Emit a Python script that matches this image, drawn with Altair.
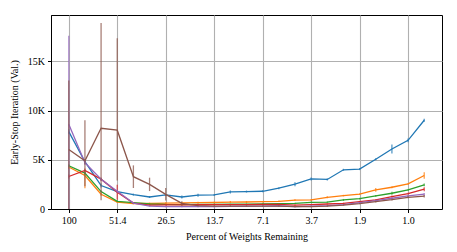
import altair as alt
import pandas as pd

# pruning round index (x position) and tick labels (percent of weights remaining)
idx = list(range(23))
tick_idx = [0, 3, 6, 9, 12, 15, 18, 21]
tick_labels = ["100", "51.4", "26.5", "13.7", "7.1", "3.7", "1.9", "1.0"]

series = ["blue", "orange", "green", "red", "purple", "brown"]
colors = ["#1f77b4", "#ff7f0e", "#2ca02c", "#d62728", "#9467bd", "#8c564b"]

blue = [7860, 4800, 2380, 1770, 1460, 1220, 1430, 1220, 1400, 1430, 1730, 1770,
        1800, 2110, 2520, 3050, 3000, 3980, 4050, 5050, 6090, 6970, 9010]
blue_dn = [250, 250, 200, 150, 100, 100, 100, 150, 150, 100, 150, 100,
           100, 100, 200, 150, 100, 100, 100, 100, 450, 200, 150]
blue_up = blue_dn

orange = [4260, 3400, 1500, 700, 560, 560, 600, 620, 640, 660, 700, 710,
          740, 780, 900, 920, 1190, 1360, 1500, 1940, 2210, 2550, 3400]
orange_dn = [200, 1300, 150, 100, 80, 80, 80, 100, 100, 80, 100, 100,
             80, 80, 100, 100, 100, 80, 80, 200, 100, 100, 340]
orange_up = [200, 600, 150, 100, 80, 80, 80, 100, 100, 80, 100, 100,
             80, 80, 100, 100, 100, 80, 80, 200, 100, 100, 340]

green = [4390, 3640, 1770, 780, 640, 510, 460, 450, 460, 470, 480, 500,
         520, 550, 580, 680, 700, 920, 1050, 1330, 1600, 1940, 2450]
green_dn = [150, 150, 100, 80, 60, 60, 60, 60, 60, 60, 60, 60,
            60, 60, 60, 60, 60, 100, 80, 80, 150, 80, 150]
green_up = green_dn

red = [3300, 3910, 3030, 1700, 600, 400, 420, 420, 430, 440, 450, 450,
       460, 470, 400, 450, 510, 580, 750, 920, 1260, 1560, 2010]
red_dn = [200, 200, 150, 750, 80, 60, 60, 60, 60, 60, 60, 60,
          60, 60, 60, 60, 60, 60, 80, 80, 100, 100, 200]
red_up = red_dn

purple = [8600, 4700, 3030, 1800, 600, 300, 250, 250, 250, 250, 260, 280,
          300, 330, 240, 300, 350, 450, 650, 850, 1090, 1330, 1500]
purple_dn = [8600, 200, 150, 150, 80, 60, 60, 60, 60, 60, 60, 60,
             60, 60, 60, 60, 60, 60, 60, 80, 80, 100, 120]
purple_up = [9000, 200, 150, 150, 80, 60, 60, 60, 60, 60, 60, 60,
             60, 60, 60, 60, 60, 60, 60, 80, 80, 100, 120]

brown = [6050, 4900, 8200, 8000, 3280, 2500, 1490, 580, 350, 300, 300, 300,
         300, 300, 250, 250, 300, 400, 550, 750, 950, 1190, 1300]
brown_dn = [6050, 2600, 7300, 5100, 1150, 680, 630, 200, 80, 60, 60, 60,
            60, 60, 60, 60, 60, 60, 60, 80, 80, 100, 120]
brown_up = [7000, 4100, 10700, 9350, 1150, 680, 630, 200, 80, 60, 60, 60,
            60, 60, 60, 60, 60, 60, 60, 80, 80, 100, 120]

values = [blue, orange, green, red, purple, brown]
downs = [blue_dn, orange_dn, green_dn, red_dn, purple_dn, brown_dn]
ups = [blue_up, orange_up, green_up, red_up, purple_up, brown_up]

label_expr = "[" + ",".join("'%s'" % t for t in tick_labels) + "][round(datum.value/3)]"

x_enc = alt.X("idx:Q",
              scale=alt.Scale(domain=[-1.1, 23.1], nice=False, zero=False),
              axis=alt.Axis(values=tick_idx, labelExpr=label_expr,
                            title="Percent of Weights Remaining",
                            titleY=27, titleBaseline="middle"))
y_scale = alt.Scale(domain=[0, 19700], nice=False)
y_axis = alt.Axis(values=[0, 5000, 10000, 15000],
                  labelExpr="datum.value == 0 ? '0' : (datum.value/1000) + 'K'",
                  title="Early-Stop Iteration (Val.)",
                  titleX=-37, titleBaseline="middle")

layers = []
for name, col, v, dn, up in zip(series, colors, values, downs, ups):
    df = pd.DataFrame({
        "idx": idx,
        "val": v,
        "lo": [max(0, a - b) for a, b in zip(v, dn)],
        "hi": [a + b for a, b in zip(v, up)],
    })
    base = alt.Chart(df)
    bars = base.mark_rule(color=col, strokeWidth=1.3, opacity=0.75, clip=True).encode(
        x=x_enc,
        y=alt.Y("lo:Q", scale=y_scale, axis=y_axis),
        y2="hi:Q",
    )
    line = base.mark_line(color=col, strokeWidth=1.3, clip=True).encode(
        x=x_enc,
        y=alt.Y("val:Q", scale=y_scale, axis=y_axis),
    )
    layers += [bars, line]

chart = alt.layer(*layers).properties(
    width=391, height=194,
    padding={"left": 43, "top": 7, "right": 4, "bottom": 34},
    autosize=alt.AutoSizeParams(type="none"),
    background="white",
).configure_view(
    stroke="black", strokeWidth=1
).configure_axis(
    domainColor="black", domainWidth=1,
    gridColor="#b0b0b0", gridWidth=1.1,
    tickColor="black", tickSize=3.5, tickWidth=1,
    labelFont="Liberation Serif", labelFontSize=10, labelColor="black",
    labelPadding=3,
    titleFont="Liberation Serif", titleFontSize=10, titleColor="black",
    titleFontWeight="normal",
)

chart.save("out.html", embed_options={"renderer": "svg", "actions": False})
